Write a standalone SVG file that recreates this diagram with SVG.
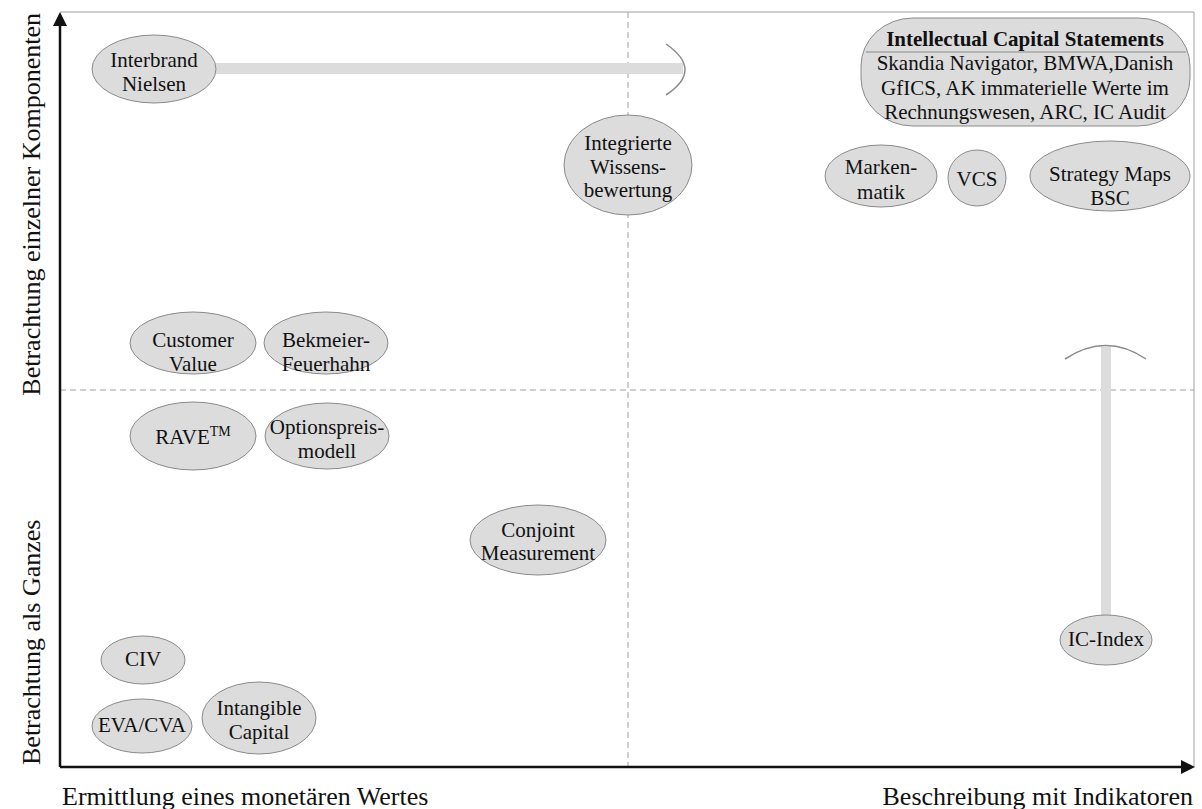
<svg xmlns="http://www.w3.org/2000/svg" width="1202" height="809" viewBox="0 0 1202 809">
<style>
.n ellipse,.n rect{fill:#dcdcdc;stroke:#8a8a8a;stroke-width:1}
.t{font-family:"Liberation Serif","Times New Roman",serif;font-size:21px;fill:#111;text-anchor:middle}
.ax{font-family:"Liberation Serif","Times New Roman",serif;font-size:26px;fill:#111}
.frame{fill:none;stroke:#a0a0a0;stroke-width:1}
.dash{fill:none;stroke:#a0a0a0;stroke-width:1;stroke-dasharray:6,4}
.bar{fill:#dcdcdc}
.arc{fill:none;stroke:#8a8a8a;stroke-width:1.5}
.axis{stroke:#111;stroke-width:2.5;fill:none}
</style>
<g id="frame">
<polyline class="frame" points="60,12 1194,12 1194,767"/>
<line class="dash" x1="628" y1="12" x2="628" y2="767"/>
<line class="dash" x1="60" y1="390" x2="1194" y2="390"/>
<line class="axis" x1="60" y1="767" x2="60" y2="22"/>
<polygon points="60,12 53,26 67,26" fill="#111"/>
<line class="axis" x1="60" y1="767" x2="1184" y2="767"/>
<polygon points="1195,767 1181,760 1181,774" fill="#111"/>
</g>
<g id="axis-labels">
<text class="ax" x="62" y="805">Ermittlung eines monetären Wertes</text>
<text class="ax" x="1193" y="805" text-anchor="end">Beschreibung mit Indikatoren</text>
<text class="ax" transform="translate(40,13) rotate(-90)" text-anchor="end">Betrachtung einzelner Komponenten</text>
<text class="ax" transform="translate(40,765) rotate(-90)">Betrachtung als Ganzes</text>
</g>
<g id="connectors">
<rect class="bar" x="210" y="63" width="473" height="11"/>
<path class="arc" d="M666,44 Q704,70 666,95"/>
<rect class="bar" x="1101" y="347" width="10" height="270"/>
<path class="arc" d="M1065,359 Q1106,332 1146,359"/>
</g>
<g id="interbrand" class="n"><ellipse cx="154" cy="69" rx="62" ry="34"/><text class="t" x="154" y="67">Interbrand</text><text class="t" x="154" y="91">Nielsen</text></g>
<g id="integrierte" class="n"><ellipse cx="628" cy="165" rx="64" ry="50"/><text class="t" x="628" y="150">Integrierte</text><text class="t" x="628" y="174">Wissens-</text><text class="t" x="628" y="197">bewertung</text></g>
<g id="ics" class="n"><rect x="861" y="18" width="329" height="108" rx="52" ry="48"/><line x1="866" y1="52" x2="1186" y2="52" stroke="#8a8a8a" stroke-width="1"/>
<text class="t" x="1025" y="46" font-weight="bold">Intellectual Capital Statements</text>
<text class="t" x="1025" y="70">Skandia Navigator, BMWA,Danish</text>
<text class="t" x="1025" y="95">GfICS, AK immaterielle Werte im</text>
<text class="t" x="1025" y="119">Rechnungswesen, ARC, IC Audit</text></g>
<g id="markenmatik" class="n"><ellipse cx="881" cy="176" rx="56" ry="31"/><text class="t" x="881" y="174">Marken-</text><text class="t" x="881" y="199">matik</text></g>
<g id="vcs" class="n"><ellipse cx="977" cy="178" rx="29" ry="28"/><text class="t" x="977" y="186">VCS</text></g>
<g id="strategy" class="n"><ellipse cx="1110" cy="176" rx="80" ry="35"/><text class="t" x="1110" y="181">Strategy Maps</text><text class="t" x="1110" y="205">BSC</text></g>
<g id="customer" class="n"><ellipse cx="193" cy="343" rx="63" ry="31"/><text class="t" x="193" y="347">Customer</text><text class="t" x="193" y="371">Value</text></g>
<g id="bekmeier" class="n"><ellipse cx="326" cy="343" rx="62" ry="31"/><text class="t" x="326" y="347">Bekmeier-</text><text class="t" x="326" y="371">Feuerhahn</text></g>
<g id="rave" class="n"><ellipse cx="193" cy="436" rx="63" ry="34"/><text class="t" x="193" y="444">RAVE<tspan font-size="14" dy="-8">TM</tspan></text></g>
<g id="optionspreis" class="n"><ellipse cx="327" cy="436" rx="62" ry="33"/><text class="t" x="327" y="434">Optionspreis-</text><text class="t" x="327" y="458">modell</text></g>
<g id="conjoint" class="n"><ellipse cx="538" cy="540" rx="68" ry="35"/><text class="t" x="538" y="537">Conjoint</text><text class="t" x="538" y="560">Measurement</text></g>
<g id="civ" class="n"><ellipse cx="143" cy="660" rx="42" ry="24"/><text class="t" x="143" y="666">CIV</text></g>
<g id="eva" class="n"><ellipse cx="142" cy="726" rx="50" ry="27"/><text class="t" x="142" y="732">EVA/CVA</text></g>
<g id="intangible" class="n"><ellipse cx="259" cy="718" rx="57" ry="36"/><text class="t" x="259" y="715">Intangible</text><text class="t" x="259" y="739">Capital</text></g>
<g id="icindex" class="n"><ellipse cx="1106" cy="640" rx="46" ry="25"/><text class="t" x="1106" y="646">IC-Index</text></g>
</svg>
